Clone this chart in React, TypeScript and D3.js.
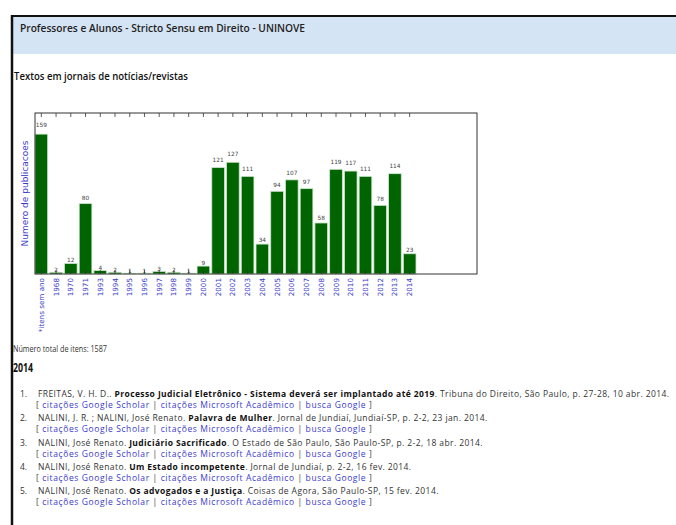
import React from 'react';
import * as d3 from 'd3';

const categories = ['*itens sem ano', '1968', '1970', '1971', '1993', '1994', '1995', '1996', '1997', '1998', '1999', '2000',
  '2001', '2002', '2003', '2004', '2005', '2006', '2007', '2008', '2009', '2010', '2011', '2012', '2013', '2014'];
const counts = [159, 2, 12, 80, 4, 2, 1, 1, 3, 2, 1, 9, 121, 127, 111, 34, 94, 107, 97, 58, 119, 117, 111, 78, 114, 23];

const pageTitle = 'Professores e Alunos - Stricto Sensu em Direito - UNINOVE';
const sectionTitle = 'Textos em jornais de notícias/revistas';
const yLabel = 'Numero de publicacoes';
const totalText = 'Número total de itens: 1587';
const yearHeading = '2014';

const itemAuthors = ['FREITAS, V. H. D.. ', 'NALINI, J. R. ; NALINI, José Renato. ', 'NALINI, José Renato. ', 'NALINI, José Renato. ', 'NALINI, José Renato. '];
const itemTitles = ['Processo Judicial Eletrônico - Sistema deverá ser implantado até 2019', 'Palavra de Mulher', 'Judiciário Sacrificado', 'Um Estado incompetente', 'Os advogados e a Justiça'];
const itemSources = ['. Tribuna do Direito, São Paulo, p. 27-28, 10 abr. 2014.', '. Jornal de Jundiaí, Jundiaí-SP, p. 2-2, 23 jan. 2014.',
  '. O Estado de São Paulo, São Paulo-SP, p. 2-2, 18 abr. 2014.', '. Jornal de Jundiaí, p. 2-2, 16 fev. 2014.', '. Coisas de Agora, São Paulo-SP, 15 fev. 2014.'];
const linkLabels = ['citações Google Scholar', 'citações Microsoft Acadêmico', 'busca Google'];

const W = 676, H = 525;
const frame = {left: 35, right: 477, top: 113, bottom: 274};
const pageFont = '"Open Sans", "DejaVu Sans", sans-serif';
const plotFont = '"DejaVu Sans", sans-serif';

const App = () => {
  var x = d3.scaleLinear().domain([-0.43, 29.57]).range([frame.left, frame.right]);
  var y = d3.scaleLinear().domain([0, 183]).range([frame.bottom, frame.top]);
  var bw = x(0.86) - x(0);

  return (
    <svg width={W} height={H} style={{position: 'absolute', left: 0, top: 0, background: '#fff'}}>
      {/* page frame + header */}
      <rect x={13} y={17} width={W - 13} height={37} fill="#d5e4f4"/>
      <line x1={11} x2={W} y1={16} y2={16} stroke="#111" strokeWidth={2}/>
      <line x1={12} x2={12} y1={15} y2={H} stroke="#111" strokeWidth={2.5}/>
      <text x={20} y={32} fontFamily={pageFont} fontSize={11} fontWeight={600} fill="#222"
            textLength={285} lengthAdjust="spacingAndGlyphs">{pageTitle}</text>
      <text x={14} y={80} fontFamily={pageFont} fontSize={11} fontWeight={600} fill="#111"
            textLength={174} lengthAdjust="spacingAndGlyphs">{sectionTitle}</text>

      {/* bars */}
      {counts.map((v, i) => (
        <rect key={'b' + i} x={x(i) - bw / 2} y={y(v)} width={bw} height={y(0) - y(v)}
              fill="#006400" stroke="#cfe6cf" strokeWidth={0.8}/>
      ))}
      {counts.map((v, i) => (
        <text key={'v' + i} x={x(i)} y={y(v * 1.05) - 0.5} textAnchor="middle" fontFamily={plotFont}
              fontSize={5.8} fill="#444">{v}</text>
      ))}

      {/* frame and ticks */}
      <rect x={frame.left} y={frame.top} width={frame.right - frame.left} height={frame.bottom - frame.top}
            fill="none" stroke="#333" strokeWidth={1}/>
      {categories.map((c, i) => (
        <g key={'t' + i}>
          <line x1={x(i)} x2={x(i)} y1={frame.top} y2={frame.top + 4} stroke="#333" strokeWidth={0.8}/>
          <line x1={x(i)} x2={x(i)} y1={frame.bottom} y2={frame.bottom - 4} stroke="#333" strokeWidth={0.8}/>
          <text transform={'translate(' + x(i) + ',' + (frame.bottom + 4) + ') rotate(-90)'} textAnchor="end"
                dy="0.35em" fontFamily={plotFont} fontSize={7.2} fill="#3b3bcc">{c}</text>
        </g>
      ))}
      <text transform={'translate(25,' + ((frame.top + frame.bottom) / 2) + ') rotate(-90)'} textAnchor="middle"
            dy="0.35em" fontFamily={plotFont} fontSize={9} fill="#3b3bcc">{yLabel}</text>

      {/* text below the chart */}
      <text x={13} y={352} fontFamily={pageFont} fontSize={8.5} fill="#333"
            textLength={94} lengthAdjust="spacingAndGlyphs">{totalText}</text>
      <text x={13} y={372} fontFamily={pageFont} fontSize={12} fontWeight={700} fill="#111"
            textLength={20} lengthAdjust="spacingAndGlyphs">{yearHeading}</text>

      {itemTitles.map((t, i) => {
        var yy = 397 + i * 24.3;
        return (
          <g key={'it' + i}>
            <text x={20} y={yy} fontFamily={pageFont} fontSize={8.5} fill="#333">{(i + 1) + '.'}</text>
            <text x={38} y={yy} fontFamily={pageFont} fontSize={8.5} letterSpacing={0.4} fill="#333">
              {itemAuthors[i]}<tspan fontWeight={700} fill="#111">{t}</tspan>{itemSources[i]}
            </text>
            <text x={36} y={yy + 11} fontFamily={pageFont} fontSize={8.5} letterSpacing={0.6} fill="#444">
              {'[ '}<tspan fill="#3b3bcc">{linkLabels[0]}</tspan>{' | '}<tspan fill="#3b3bcc">{linkLabels[1]}</tspan>
              {' | '}<tspan fill="#3b3bcc">{linkLabels[2]}</tspan>{' ]'}
            </text>
          </g>
        );
      })}
    </svg>
  );
};

export default App;
